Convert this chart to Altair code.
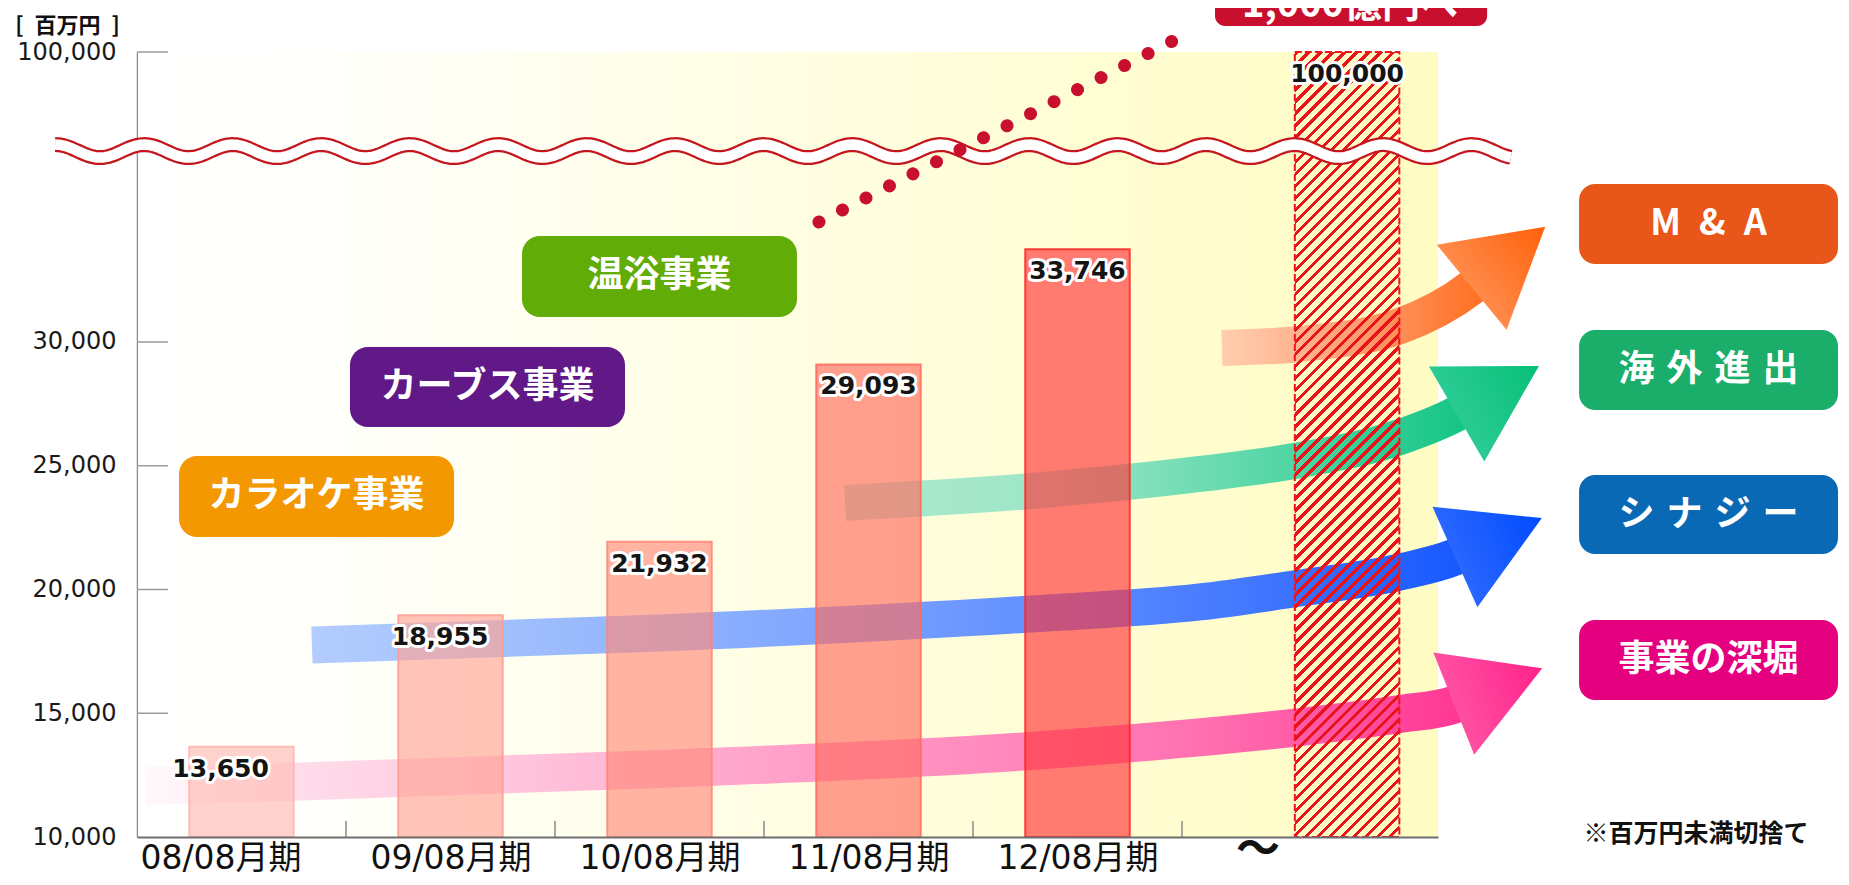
import json
import numpy as np
import pandas as pd
import altair as alt

# ---------------- data ----------------
PERIODS = ["08/08月期", "09/08月期", "10/08月期", "11/08月期", "12/08月期"]
SALES = [13650, 18955, 21932, 29093, 33746]
PERIOD_POS = [0, 1, 2, 3, 4]
TARGET_NAME = "目標"
TARGET_VALUE = 100000
TARGET_POS = 5.29
Y_TICK_VALUES = [10000, 15000, 20000, 25000, 30000, 100000]
X_TICK_POS = [0.5, 1.5, 2.5, 3.5, 4.5]
BUSINESSES = ["カラオケ事業", "カーブス事業", "温浴事業"]
STRATEGIES = ["M\u2002&\u2002A", "海\u2004外\u2004進\u2004出", "シ\u2004ナ\u2004ジ\u2004ー", "事業の深堀"]
GOAL_TEXT = "1,000億円へ"
UNIT_TEXT = "[\u2002百万円\u2002]"
NOTE_TEXT = "※百万円未満切捨て"
ELLIPSIS_TEXT = "〜"

# ---------------- layout / style (decoration, kept apart from data) ----------------
JP = "Noto Sans CJK JP"
NUM = "DejaVu Sans"
MIX = "DejaVu Sans, Noto Sans CJK JP"
W, H = 1301, 785
BAR_HALF = 0.25
LABEL_NUDGE = [-0.1, -0.05, 0, 0, 0, 0]
BAR_FILLS = ["#FFBAB3", "#FFA595", "#FF8A7A", "#FF6C60", "#FF363B"]
BAR_STROKES = ["#FFB4AE", "#FF9C92", "#FF8578", "#FF6A5C", "#FF2424"]

BUSINESS_BOX = [(-0.299, 1.017, 22121, 25394), (0.519, 1.835, 26566, 29798), (1.342, 2.658, 31010, 34283)]
BUSINESS_COLORS = ["#F39800", "#601986", "#62AC07"]
STRATEGY_BOX = [(6.40, 7.639, 33152, 36384), (6.40, 7.639, 27253, 30485),
                (6.40, 7.639, 21434, 24626), (6.40, 7.639, 15535, 18768)]
STRATEGY_COLORS = ["#E8561A", "#1BAE6B", "#0A69B5", "#E4007F"]
GOAL_BOX = (4.658, 5.960, 115400, 150000)
GOAL_TEXT_AT = (5.304, 120730)
NOTE_AT = (6.959, 10121)
ELLIPSIS_AT = (4.864, 9420)
BG_BOX = (-0.495, 5.725, 10000, 100000)
WAVE_CENTER, WAVE_AMP = 41300, 3850

ARROWS = [
    dict(pts=[(-0.462, 12061), (0.213, 12222), (2.0, 12747), (3.778, 13475), (5.065, 14444),
              (5.543, 14970), (5.797, 15333), (5.886, 15673)],
         head=(6.012, 16101), angle=338.2, width=38,
         stops=[(0, "rgba(255,205,228,0.12)"), (0.12, "rgba(255,190,220,0.55)"),
                (0.45, "rgba(255,150,200,0.85)"), (0.8, "#FF6FB0"), (1, "#FF3593")],
         head_stops=[(0, "#FF4FA3"), (1, "#FF2389")]),
    dict(pts=[(0.337, 17758), (2.0, 18242), (3.778, 19010), (4.586, 19495), (5.065, 20061),
              (5.543, 20707), (5.806, 21313), (5.894, 21645)],
         head=(6.014, 22101), angle=335.9, width=37,
         stops=[(0, "rgba(160,192,255,0.8)"), (0.45, "#7EA5FF"), (0.8, "#4479FF"), (1, "#1557FF")],
         head_stops=[(0, "#2A66FF"), (1, "#004CFF")]),
    dict(pts=[(2.888, 23495), (3.778, 23980), (4.586, 24667), (5.065, 25232), (5.543, 26162),
              (5.811, 27091), (5.894, 27495)],
         head=(6.011, 28061), angle=329.8, width=36,
         stops=[(0, "rgba(150,225,200,0.75)"), (0.35, "#9BE6C8"), (0.75, "#48D39F"), (1, "#12C484")],
         head_stops=[(0, "#2ACB93"), (1, "#07C078")]),
    dict(pts=[(4.691, 29758), (5.065, 29919), (5.543, 30646), (5.888, 32222), (5.962, 32735)],
         head=(6.062, 33434), angle=320.6, width=36,
         stops=[(0, "rgba(255,190,165,0.75)"), (0.5, "#FF9E70"), (1, "#FF6E1E")],
         head_stops=[(0, "#FF8A4A"), (1, "#FF6008")]),
]

# ---------------- scales & axes ----------------
XS = alt.Scale(domain=[-0.5, 5.725], nice=False, zero=False)
YS = alt.Scale(domain=[10000, 37450, 100000], range=[H, 105.6, 0], nice=False, zero=False)

label_array = json.dumps(PERIODS, ensure_ascii=False).replace('"', "'")
XAXIS = alt.Axis(values=PERIOD_POS, labelExpr=f"{label_array}[datum.value]", title=None,
                 ticks=False, tickSize=0, grid=False, domainColor="#6e6e6e", domainWidth=2,
                 labelFont=MIX, labelFontSize=33, labelColor="#111111", labelBaseline="middle",
                 labelPadding=21, labelFlush=False, labelOverlap=False,
                 labelOffset={"condition": {"test": "datum.value == 0", "value": -21}, "value": 0},
                 zindex=1)
YAXIS = alt.Axis(values=Y_TICK_VALUES, labelExpr="format(datum.value, ',')", title=UNIT_TEXT,
                 titleAngle=0, titleX=-70, titleY=-27, titleAlign="center", titleBaseline="middle",
                 titleFont=JP, titleFontSize=22, titleFontWeight="bold", titleColor="#111111",
                 ticks=False, tickSize=0, grid=False, domainColor="#8a8a8a", domainWidth=1.5,
                 labelFont=NUM, labelFontSize=24, labelPadding=21, labelColor="#1a1a1a",
                 labelOverlap=False, labelFlush=False, zindex=0)


def X(field):
    return alt.X(f"{field}:Q", scale=XS, axis=XAXIS)


def Y(field):
    return alt.Y(f"{field}:Q", scale=YS, axis=YAXIS)


def grad(stops, x2=1.0, y2=0.0):
    return alt.LinearGradient(gradient="linear", x1=0, y1=0, x2=x2, y2=y2,
                              stops=[alt.GradientStop(offset=o, color=c) for o, c in stops])


def hatch():
    bw, bh = 2 * BAR_HALF * W / 6.225, H
    r = bh / bw
    s = (1 + r) / (1 + r * r)
    n = round((bw + bh) / 12)
    stops = []
    for i in range(n):
        a, b, c = i / n, (i + 0.38) / n, (i + 1) / n
        stops += [(round(a, 5), "#E8141C"), (round(b, 5), "#E8141C"),
                  (round(b, 5), "rgba(255,255,255,0)"), (round(c, 5), "rgba(255,255,255,0)")]
    return grad(stops, x2=s, y2=s * r)


layers = []

# background
bg = pd.DataFrame([dict(x0=BG_BOX[0], x1=BG_BOX[1], y0=BG_BOX[2], y1=BG_BOX[3])])
layers.append(alt.Chart(bg).mark_rect(
    fill=grad([(0, "#FFFFFF"), (0.15, "#FFFFFB"), (0.45, "#FFFEE6"), (0.75, "#FFFDD2"), (1, "#FFFCC3")])
).encode(x=X("x0"), x2="x1", y=Y("y0"), y2="y1"))

# inward tick marks
yt = pd.DataFrame({"y": Y_TICK_VALUES[1:]})
layers.append(alt.Chart(yt).mark_rule(color="#9a9a9a", strokeWidth=1.5)
              .transform_calculate(x0="-0.5", x1="-0.352")
              .encode(x=X("x0"), x2="x1", y=Y("y")))
xt = pd.DataFrame({"x": X_TICK_POS})
layers.append(alt.Chart(xt).mark_rule(color="#8a8a8a", strokeWidth=1.5)
              .transform_calculate(y0="10000", y1="10650")
              .encode(x=X("x"), y=Y("y0"), y2="y1"))

# growth arrows
for a in ARROWS:
    df = pd.DataFrame(a["pts"], columns=["k", "v"])
    layers.append(alt.Chart(df).mark_line(stroke=grad(a["stops"]), strokeWidth=a["width"],
                                          strokeCap="butt", interpolate="monotone")
                  .encode(x=X("k"), y=Y("v")))
    hd = pd.DataFrame([dict(k=a["head"][0], v=a["head"][1])])
    layers.append(alt.Chart(hd).mark_point(shape="triangle-right", size=12100, filled=True,
                                           fill=grad(a["head_stops"]), opacity=1, strokeWidth=0,
                                           angle=a["angle"])
                  .encode(x=X("k"), y=Y("v")))

# bars
bars = pd.DataFrame({"period": PERIODS, "value": SALES, "pos": PERIOD_POS,
                     "fill": BAR_FILLS, "edge": BAR_STROKES})
layers.append(alt.Chart(bars).mark_rect(fillOpacity=0.65, strokeOpacity=0.85, strokeWidth=2)
              .transform_calculate(x0=f"datum.pos - {BAR_HALF}", x1=f"datum.pos + {BAR_HALF}", base="10000")
              .encode(x=X("x0"), x2="x1", y=Y("value"), y2="base",
                      fill=alt.Fill("fill:N", scale=None),
                      stroke=alt.Stroke("edge:N", scale=None)))

# target (hatched) bar
tgt = pd.DataFrame([dict(value=TARGET_VALUE, pos=TARGET_POS)])
layers.append(alt.Chart(tgt).mark_rect(fill=hatch(), stroke="#F01418", strokeWidth=2, strokeDash=[7, 3])
              .transform_calculate(x0=f"datum.pos - {BAR_HALF}", x1=f"datum.pos + {BAR_HALF}", base="10000")
              .encode(x=X("x0"), x2="x1", y=Y("value"), y2="base"))

# axis-break wave
wk = np.linspace(-0.892, 6.074, 700)
wave = pd.DataFrame({"k": wk, "v": WAVE_CENTER + WAVE_AMP * np.cos(2 * np.pi * (wk - 5.462) / 0.4234)})
layers.append(alt.Chart(wave).mark_line(color="#C4161C", strokeWidth=15, strokeCap="butt")
              .encode(x=X("k"), y=Y("v")))
layers.append(alt.Chart(wave).mark_line(color="#FFFFFF", strokeWidth=10.5, strokeCap="butt")
              .encode(x=X("k"), y=Y("v")))

# dotted projection
dots = pd.DataFrame({"k": [2.763, 4.464], "v": [34848, 107108]})
layers.append(alt.Chart(dots).mark_line(color="#C8102E", strokeWidth=13, strokeCap="round",
                                        strokeDash=[0.01, 26.4])
              .encode(x=X("k"), y=Y("v")))

# value labels
lab = pd.DataFrame({"name": PERIODS + [TARGET_NAME], "value": SALES + [TARGET_VALUE],
                    "pos": PERIOD_POS + [TARGET_POS], "nudge": LABEL_NUDGE})
base_lab = alt.Chart(lab).transform_calculate(lx="datum.pos + datum.nudge")
layers.append(base_lab.mark_text(font=NUM, fontSize=25, fontWeight="bold", color="white",
                                 stroke="white", strokeWidth=6, strokeJoin="round",
                                 baseline="middle", align="center", dy=22)
              .encode(x=X("lx"), y=Y("value"), text=alt.Text("value:Q", format=",")))
layers.append(base_lab.mark_text(font=NUM, fontSize=25, fontWeight="bold", color="#141414",
                                 baseline="middle", align="center", dy=22)
              .encode(x=X("lx"), y=Y("value"), text=alt.Text("value:Q", format=",")))


# label boxes
def boxes(names, geo, colors, radius, size):
    df = pd.DataFrame([dict(label=n, color=c, x0=g[0], x1=g[1], y0=g[2], y1=g[3],
                            xc=(g[0] + g[1]) / 2, yc=(g[2] + g[3]) / 2)
                       for n, g, c in zip(names, geo, colors)])
    r = alt.Chart(df).mark_rect(cornerRadius=radius).encode(
        x=X("x0"), x2="x1", y=Y("y0"), y2="y1", fill=alt.Fill("color:N", scale=None))
    t = alt.Chart(df).mark_text(font=JP, fontSize=size, fontWeight="bold", color="white",
                                baseline="middle", align="center").encode(
        x=X("xc"), y=Y("yc"), text="label:N")
    return [r, t]


layers += boxes(BUSINESSES, BUSINESS_BOX, BUSINESS_COLORS, 18, 36)
layers += boxes(STRATEGIES, STRATEGY_BOX, STRATEGY_COLORS, 16, 36)

# goal box (top, cut by the page edge as in the original)
gb = pd.DataFrame([dict(x0=GOAL_BOX[0], x1=GOAL_BOX[1], y0=GOAL_BOX[2], y1=GOAL_BOX[3],
                        xc=GOAL_TEXT_AT[0], yc=GOAL_TEXT_AT[1], label=GOAL_TEXT)])
layers.append(alt.Chart(gb).mark_rect(cornerRadius=10, color="#C8102E")
              .encode(x=X("x0"), x2="x1", y=Y("y0"), y2="y1"))
layers.append(alt.Chart(gb).mark_text(font=JP, fontSize=38, fontWeight="bold", color="white",
                                      baseline="alphabetic", align="center")
              .encode(x=X("xc"), y=Y("yc"), text="label:N"))

# note and ellipsis
notes = pd.DataFrame([dict(k=NOTE_AT[0], v=NOTE_AT[1], label=NOTE_TEXT)])
layers.append(alt.Chart(notes).mark_text(font=JP, fontSize=25, fontWeight="bold", color="#111111",
                                         baseline="middle", align="center")
              .encode(x=X("k"), y=Y("v"), text="label:N"))
ell = pd.DataFrame([dict(k=ELLIPSIS_AT[0], v=ELLIPSIS_AT[1], label=ELLIPSIS_TEXT)])
layers.append(alt.Chart(ell).mark_text(font=JP, fontSize=44, fontWeight="bold", color="#111111",
                                       baseline="middle", align="center")
              .encode(x=X("k"), y=Y("v"), text="label:N"))

chart = alt.layer(*layers).properties(
    width=W, height=H,
    autosize=alt.AutoSizeParams(type="none"),
    padding={"left": 129, "top": 44, "right": 403, "bottom": 40},
    background="white",
).configure_view(stroke=None)

chart.save("out.html", embed_options={"renderer": "svg", "actions": False})
